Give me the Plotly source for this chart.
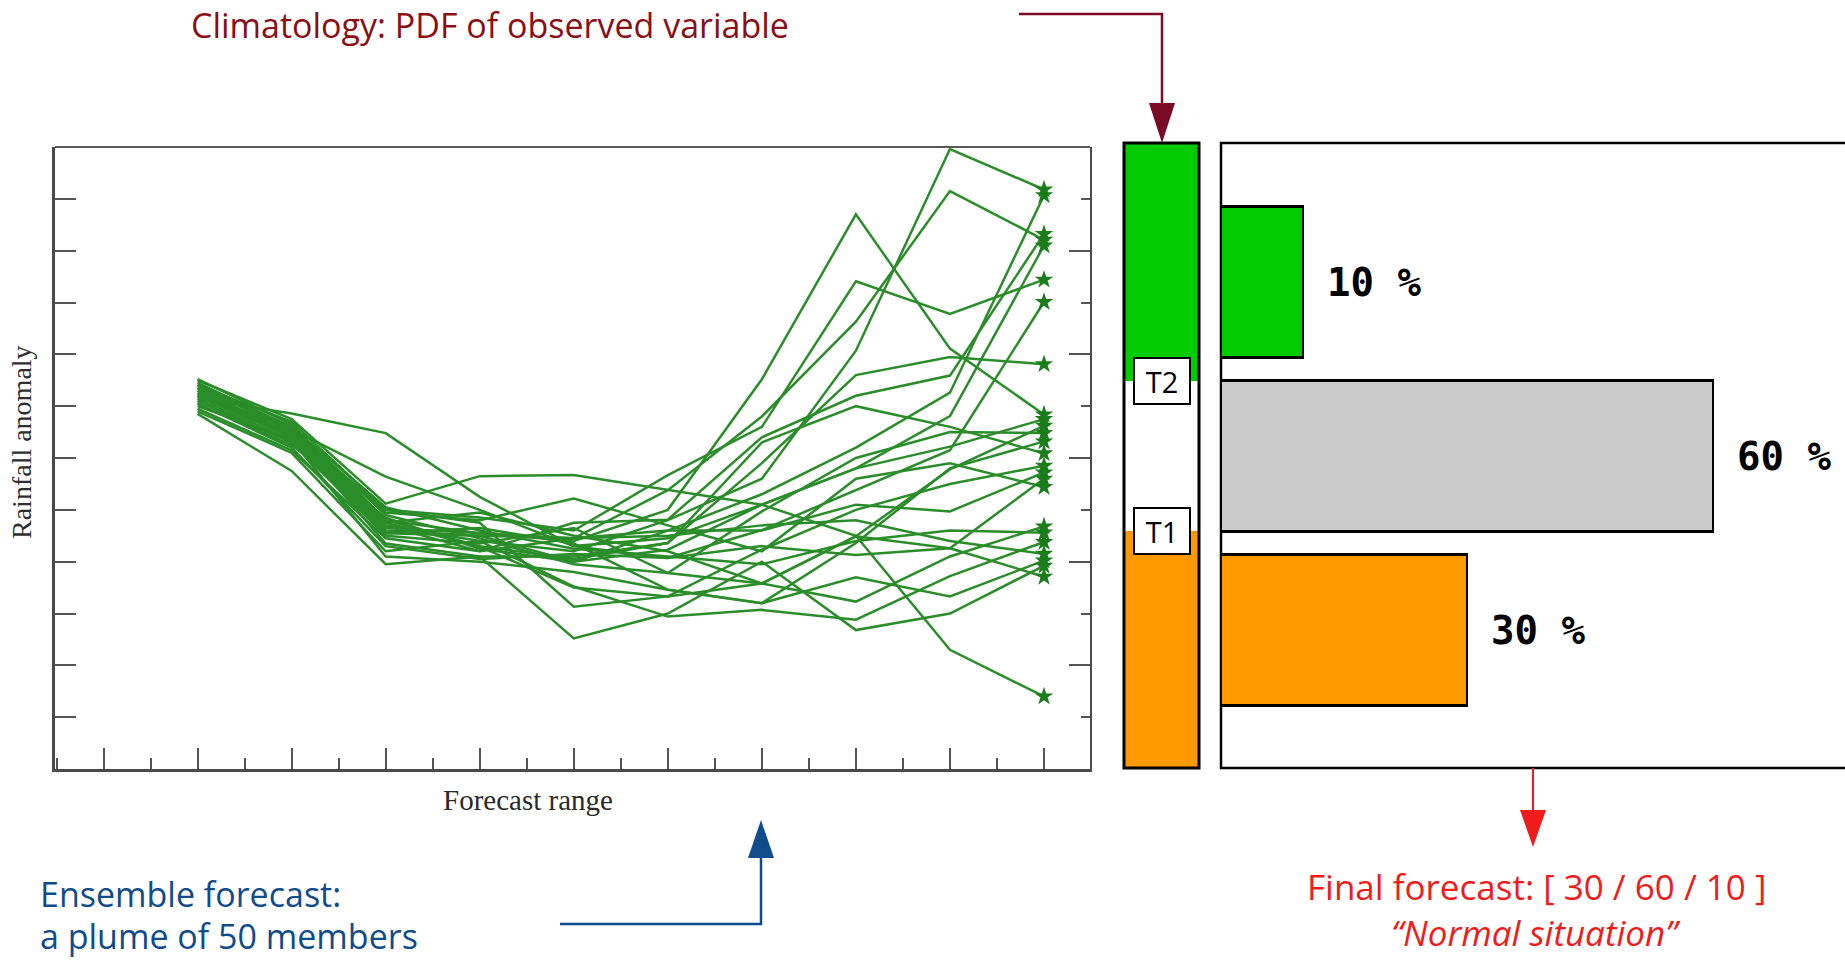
import plotly.graph_objects as go

W, H = 1845, 962

# ---------------- data ----------------
forecast_steps = [2, 3, 4, 5, 6, 7, 8, 9, 10, 11]

member_01 = [7.40, 6.55, 4.80, 4.55, 4.40, 5.00, 7.52, 10.70, 8.11, 6.84]
member_02 = [7.30, 6.45, 4.70, 4.40, 4.20, 4.80, 5.60, 8.07, 11.96, 11.18]
member_03 = [7.20, 6.40, 4.60, 4.50, 4.45, 5.38, 6.80, 8.63, 11.15, 10.21]
member_04 = [7.05, 6.25, 4.85, 4.25, 4.00, 4.60, 5.30, 6.20, 7.26, 11.07]
member_05 = [7.40, 6.70, 5.00, 4.85, 4.60, 5.67, 6.60, 9.41, 8.78, 9.44]
member_06 = [6.95, 6.15, 4.45, 4.20, 4.75, 4.81, 6.40, 7.20, 7.59, 10.32]
member_07 = [7.25, 6.55, 5.64, 5.00, 4.30, 4.45, 5.10, 5.80, 6.81, 10.10]
member_08 = [7.35, 6.45, 4.35, 4.10, 4.10, 4.36, 5.90, 7.60, 7.95, 7.81]
member_09 = [7.15, 6.86, 6.48, 5.25, 4.30, 4.07, 4.61, 5.38, 6.15, 9.01]
member_10 = [7.50, 6.75, 5.12, 5.65, 5.67, 5.38, 5.10, 5.80, 6.22, 6.75]
member_11 = [7.10, 6.30, 4.75, 4.95, 4.50, 4.20, 3.58, 4.49, 5.78, 6.62]
member_12 = [7.45, 6.60, 4.90, 4.45, 3.95, 3.78, 4.97, 6.00, 6.50, 6.48]
member_13 = [7.00, 6.35, 4.55, 4.65, 4.35, 3.46, 3.20, 4.36, 5.80, 6.32]
member_14 = [7.52, 6.65, 4.80, 4.30, 4.05, 4.36, 6.30, 7.00, 6.60, 6.09]
member_15 = [7.20, 6.50, 5.00, 4.75, 3.13, 3.33, 4.23, 5.00, 5.50, 5.85]
member_16 = [7.30, 6.40, 4.65, 4.55, 4.45, 4.60, 4.60, 5.10, 4.97, 5.72]
member_17 = [7.05, 6.20, 4.30, 4.05, 4.15, 4.07, 4.30, 4.13, 4.26, 5.60]
member_18 = [7.45, 6.55, 4.95, 4.80, 5.22, 4.70, 4.20, 5.60, 5.90, 5.44]
member_19 = [7.10, 6.30, 4.50, 4.35, 4.65, 3.78, 3.58, 3.23, 4.10, 4.68]
member_20 = [7.35, 6.60, 5.05, 4.60, 4.25, 4.10, 3.95, 4.40, 4.60, 4.56]
member_21 = [6.90, 6.10, 4.20, 4.40, 3.52, 2.94, 3.07, 2.88, 3.72, 4.38]
member_22 = [7.25, 6.45, 4.70, 4.20, 4.45, 4.50, 4.70, 4.80, 4.40, 4.15]
member_23 = [7.15, 6.35, 4.10, 4.00, 3.80, 3.46, 3.20, 3.70, 3.33, 4.02]
member_24 = [6.85, 5.75, 3.95, 4.10, 2.52, 3.00, 4.00, 2.68, 3.00, 3.92]
member_25 = [7.40, 6.50, 4.75, 4.29, 3.50, 3.33, 3.58, 4.49, 4.26, 3.71]
member_26 = [7.20, 6.40, 4.55, 4.50, 4.00, 4.23, 5.10, 4.50, 2.30, 1.40]

members = [member_01, member_02, member_03, member_04, member_05, member_06,
           member_07, member_08, member_09, member_10, member_11, member_12,
           member_13, member_14, member_15, member_16, member_17, member_18,
           member_19, member_20, member_21, member_22, member_23, member_24,
           member_25, member_26]
ensemble_size = 50

tercile_categories = ["Below normal", "Normal", "Above normal"]
climatology_share = [38, 24, 38]          # % of the observed PDF in each tercile
tercile_colors = ["#ff9900", "#ffffff", "#00cc00"]
threshold_labels = ["T1", "T2"]

forecast_probability = [30, 60, 10]       # below / normal / above
forecast_colors = ["#ff9900", "#cccccc", "#00cc00"]
forecast_situation = "Normal situation"


# ---------------- helpers (pixel -> paper) ----------------
def px(x):
    return x / W


def py(y):
    return 1 - y / H


GREEN_LINE = "#2a8d2a"
STAR = "#1a7d1a"
AXIS = "#4a4a4a"
MAROON = "#7a0a26"
MAROON_TXT = "#8a0e14"
BLUE = "#104b8c"
RED = "#f01c1c"
SANS = "Open Sans"

fig = go.Figure()

# ensemble plume
for m in members:
    fig.add_trace(go.Scatter(
        x=forecast_steps, y=m, mode="lines",
        line=dict(color=GREEN_LINE, width=2.5),
        xaxis="x", yaxis="y", showlegend=False, hoverinfo="skip"))

fig.add_trace(go.Scatter(
    x=[forecast_steps[-1]] * len(members), y=[m[-1] for m in members],
    mode="markers", marker=dict(symbol="star", size=14, color=STAR, line=dict(width=0)),
    xaxis="x", yaxis="y2", showlegend=False, hoverinfo="skip"))

# climatology column (stacked terciles)
for cat, share, col in zip(tercile_categories, climatology_share, tercile_colors):
    fig.add_trace(go.Bar(
        x=["Climatology"], y=[share], name=cat, width=1,
        marker=dict(color=col, line=dict(width=0)),
        xaxis="x3", yaxis="y3", showlegend=False, hoverinfo="skip"))

# forecast probabilities
fig.add_trace(go.Bar(
    y=tercile_categories, x=forecast_probability, orientation="h", width=0.868,
    marker=dict(color=forecast_colors, line=dict(color="black", width=2.5)),
    xaxis="x4", yaxis="y4", showlegend=False, hoverinfo="skip"))

tick_style = dict(ticks="inside", tickcolor="#555555", tickwidth=2, showticklabels=False,
                  showgrid=False, zeroline=False)

fig.update_layout(
    width=W, height=H, margin=dict(l=0, r=0, t=0, b=0),
    paper_bgcolor="white", plot_bgcolor="white",
    barmode="stack", showlegend=False,
    xaxis=dict(domain=[px(55), px(1090)], range=[0.484, 11.489], anchor="y",
               showline=True, linecolor=AXIS, linewidth=3,
               tick0=1, dtick=1, ticklen=21,
               minor=dict(ticks="inside", ticklen=11, tickwidth=2, tickcolor="#555555",
                          tick0=1, dtick=0.5),
               **tick_style),
    yaxis=dict(domain=[py(769), py(147)], range=[0, 12], anchor="x",
               showline=True, linecolor=AXIS, linewidth=3,
               tick0=0, dtick=1, ticklen=21, **tick_style),
    yaxis2=dict(overlaying="y", side="right", anchor="x", range=[0, 12],
                showline=True, linecolor=AXIS, linewidth=2,
                tick0=0, dtick=2, ticklen=21,
                minor=dict(ticks="inside", ticklen=9, tickwidth=2, tickcolor="#555555",
                           tick0=0, dtick=1),
                **tick_style),
    xaxis3=dict(domain=[px(1124), px(1199)], range=[-0.5, 0.5], anchor="y3", visible=False),
    yaxis3=dict(domain=[py(768), py(143)], range=[0, 100], anchor="x3", visible=False),
    xaxis4=dict(domain=[px(1221), 1], range=[0, (W - 1221) / 8.2], anchor="y4", visible=False),
    yaxis4=dict(domain=[py(768), py(143)], range=[-0.793, 2.80], anchor="x4", visible=False,
                categoryorder="array", categoryarray=tercile_categories),
)

shapes = []
# top border of the plume panel
shapes.append(dict(type="line", xref="x domain", yref="y domain", x0=0, x1=1, y0=1, y1=1,
                   line=dict(color="#5a5a5a", width=2)))
# climatology column outline
shapes.append(dict(type="rect", xref="x3 domain", yref="y3 domain", x0=0, x1=1, y0=0, y1=1,
                   line=dict(color="black", width=3)))
# probability panel frame (runs off the right edge)
shapes.append(dict(type="rect", xref="paper", yref="y4 domain", x0=px(1221), x1=1.02, y0=0, y1=1,
                   line=dict(color="black", width=2.5), layer="below"))

# maroon connector to climatology
shapes.append(dict(type="path", xref="paper", yref="paper",
                   path=f"M {px(1019)},{py(14)} L {px(1162)},{py(14)} L {px(1162)},{py(106)}",
                   line=dict(color=MAROON, width=2.5)))
shapes.append(dict(type="path", xref="paper", yref="paper",
                   path=f"M {px(1149)},{py(103)} L {px(1175)},{py(103)} L {px(1162)},{py(143)} Z",
                   fillcolor=MAROON, line=dict(width=0)))
# blue connector from ensemble text
shapes.append(dict(type="path", xref="paper", yref="paper",
                   path=f"M {px(560)},{py(924)} L {px(761)},{py(924)} L {px(761)},{py(856)}",
                   line=dict(color=BLUE, width=2.5)))
shapes.append(dict(type="path", xref="paper", yref="paper",
                   path=f"M {px(748)},{py(858)} L {px(774)},{py(858)} L {px(761)},{py(820)} Z",
                   fillcolor=BLUE, line=dict(width=0)))
# red connector to final forecast
shapes.append(dict(type="path", xref="paper", yref="paper",
                   path=f"M {px(1533)},{py(768)} L {px(1533)},{py(812)}",
                   line=dict(color=RED, width=2)))
shapes.append(dict(type="path", xref="paper", yref="paper",
                   path=f"M {px(1520)},{py(810)} L {px(1546)},{py(810)} L {px(1533)},{py(847)} Z",
                   fillcolor=RED, line=dict(width=0)))
fig.update_layout(shapes=shapes)

ann = []


def note(x, y, text, font, xanchor="center", **kw):
    d = dict(xref="paper", yref="paper", x=px(x), y=py(y), xanchor=xanchor, yanchor="middle",
             showarrow=False, text=text, font=font)
    d.update(kw)
    ann.append(d)


note(490, 25, "Climatology: PDF of observed variable",
     dict(family=SANS, size=34, color=MAROON_TXT))
note(22, 442, "Rainfall anomaly",
     dict(family="Liberation Serif", size=28, color="#2e2e2e"), textangle=-90)
note(528, 800, "Forecast range",
     dict(family="Liberation Serif", size=29, color="#2a2a2a"))
note(38, 894, "Ensemble forecast:", dict(family=SANS, size=34, color=BLUE), xanchor="left")
note(38, 936, f"a plume of {ensemble_size} members", dict(family=SANS, size=34, color=BLUE),
     xanchor="left")
note(1536, 886, "Final forecast: [ " + " / ".join(str(p) for p in forecast_probability) + " ]",
     dict(family=SANS, size=35, color=RED))
note(1536, 932, f"<i>\u201c{forecast_situation}\u201d</i>", dict(family=SANS, size=35, color=RED))

# thresholds T1 / T2 on the climatology column
thr = [climatology_share[0], climatology_share[0] + climatology_share[1]]
for lab, t in zip(threshold_labels, thr):
    ann.append(dict(xref="x3", yref="y3", x=0, y=t, xanchor="center", yanchor="middle",
                    showarrow=False, text=lab,
                    bgcolor="white", bordercolor="black", borderwidth=2, borderpad=0,
                    width=54, height=44,
                    font=dict(family=SANS, size=29, color="black")))

# percentage labels
for cat, p in zip(tercile_categories, forecast_probability):
    ann.append(dict(xref="x4", yref="y4", x=p, y=cat, xanchor="left", yanchor="middle",
                    xshift=22, showarrow=False, text=f"{p} %",
                    font=dict(family="DejaVu Sans Mono", size=39, color="black", weight="bold")))

fig.update_layout(annotations=ann)

fig.write_html("out.html", config={"displayModeBar": False},
               post_script="document.body.style.margin='0';document.body.style.overflow='hidden';")
